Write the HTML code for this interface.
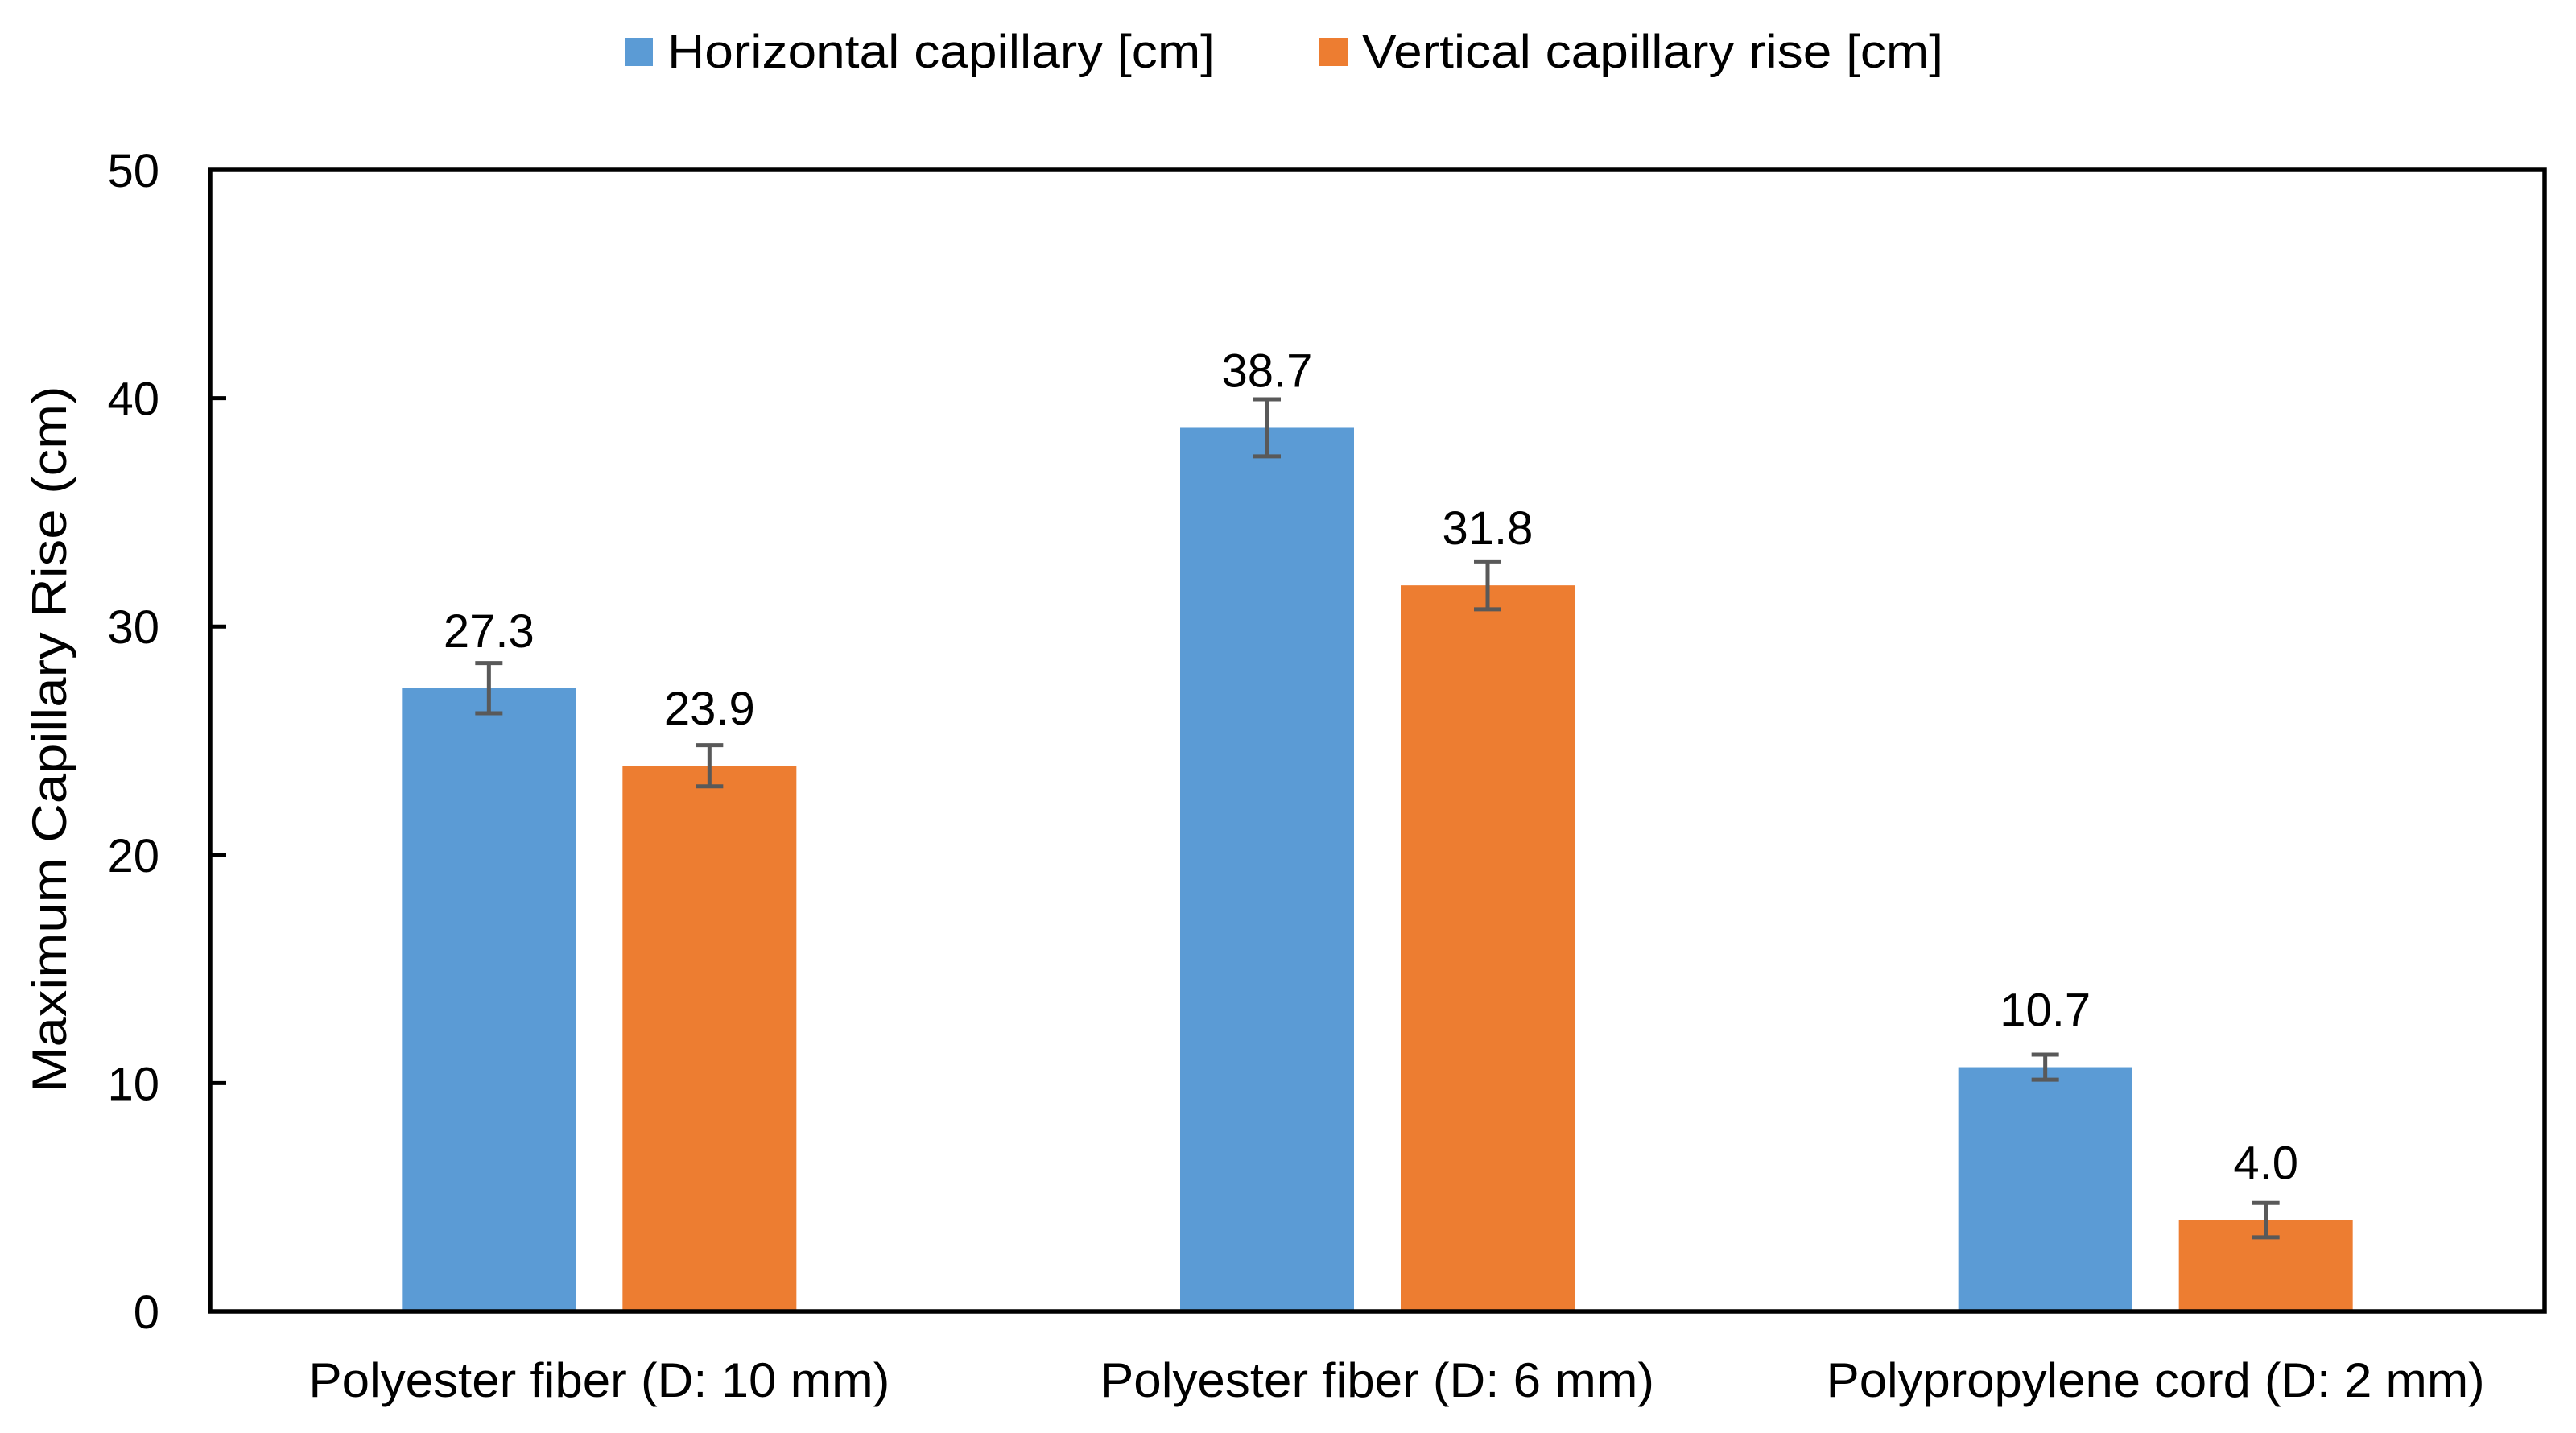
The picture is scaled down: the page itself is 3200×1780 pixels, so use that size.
<!DOCTYPE html>
<html><head><meta charset="utf-8"><style>
html,body{margin:0;padding:0;background:#fff;}
svg{display:block;font-family:"Liberation Sans",sans-serif;}
</style></head><body>
<svg id="chart" width="3200" height="1780" viewBox="0 0 3200 1780">
<g>
  <rect x="776" y="47" width="35" height="35" fill="#5B9BD5"/>
  <text x="829" y="84" font-size="58" fill="#000" textLength="680" lengthAdjust="spacingAndGlyphs">Horizontal capillary  [cm]</text>
  <rect x="1639" y="47" width="35" height="35" fill="#ED7D31"/>
  <text x="1692" y="84" font-size="58" fill="#000" textLength="722" lengthAdjust="spacingAndGlyphs">Vertical capillary rise  [cm]</text>
</g>
<text transform="translate(82,918) rotate(-90)" text-anchor="middle" font-size="60" fill="#000" textLength="877" lengthAdjust="spacingAndGlyphs">Maximum Capillary Rise (cm)</text>
<g id="plot"></g>
</svg>
<script>
const categories = ["Polyester fiber (D: 10 mm)", "Polyester fiber (D: 6 mm)", "Polypropylene cord (D: 2 mm)"];
const horizontalValues = [27.3, 38.7, 10.7];
const verticalValues = [23.9, 31.8, 4.0];
const horizontalErrors = [1.1, 1.25, 0.55];
const verticalErrors = [0.9, 1.05, 0.75];
const valueLabelsH = ["27.3", "38.7", "10.7"];
const valueLabelsV = ["23.9", "31.8", "4.0"];
const yTicks = [0, 10, 20, 30, 40, 50];

const NS = "http://www.w3.org/2000/svg";
const L = 261, R = 3161, T = 211, B = 1629, YMAX = 50;
const catW = (R - L) / categories.length;
const barW = 216, gap = 58;
const labelWidths = [722, 688, 818];
const y = v => B - v / YMAX * (B - T);
const cx = i => L + catW * (i + 0.5);
const plot = document.getElementById("plot");
function mk(tag, attrs, text) {
  const e = document.createElementNS(NS, tag);
  for (const k in attrs) e.setAttribute(k, attrs[k]);
  if (text !== undefined) e.textContent = text;
  plot.appendChild(e);
  return e;
}
yTicks.forEach(t => {
  const tk = mk("line", {x1: L, x2: L + 20, y1: y(t), y2: y(t), stroke: "#000", "stroke-width": 5});
  
  
  const lb = mk("text", {x: 198, y: y(t) + 21, "text-anchor": "end", "font-size": 58, fill: "#000"}, String(t));
  
  
});
function drawBar(i, v, err, label, color, xLeft, series) {
  const r = mk("rect", {x: xLeft, y: y(v), width: barW, height: B - y(v), fill: color});
  
  
  const mx = xLeft + barW / 2;
  const eb = mk("path", {d: `M${mx - 17},${y(v + err)}H${mx + 17}M${mx},${y(v + err)}V${y(v - err)}M${mx - 17},${y(v - err)}H${mx + 17}`, stroke: "#595959", "stroke-width": 5, fill: "none"});
  
  
  const t = mk("text", {x: mx, y: y(v) - 51, "text-anchor": "middle", "font-size": 58, fill: "#000"}, label);
  
  
}
categories.forEach((c, i) => {
  const c0 = cx(i);
  drawBar(i, horizontalValues[i], horizontalErrors[i], valueLabelsH[i], "#5B9BD5", c0 - gap / 2 - barW, "horizontal");
  drawBar(i, verticalValues[i], verticalErrors[i], valueLabelsV[i], "#ED7D31", c0 + gap / 2, "vertical");
  const cl = mk("text", {x: c0, y: 1735, "text-anchor": "middle", "font-size": 60, fill: "#000", textLength: labelWidths[i], lengthAdjust: "spacingAndGlyphs"}, c);
  
  
});
const frame = mk("rect", {x: L, y: T, width: R - L, height: B - T, fill: "none", stroke: "#000", "stroke-width": 5.5});


</script>
</body></html>
